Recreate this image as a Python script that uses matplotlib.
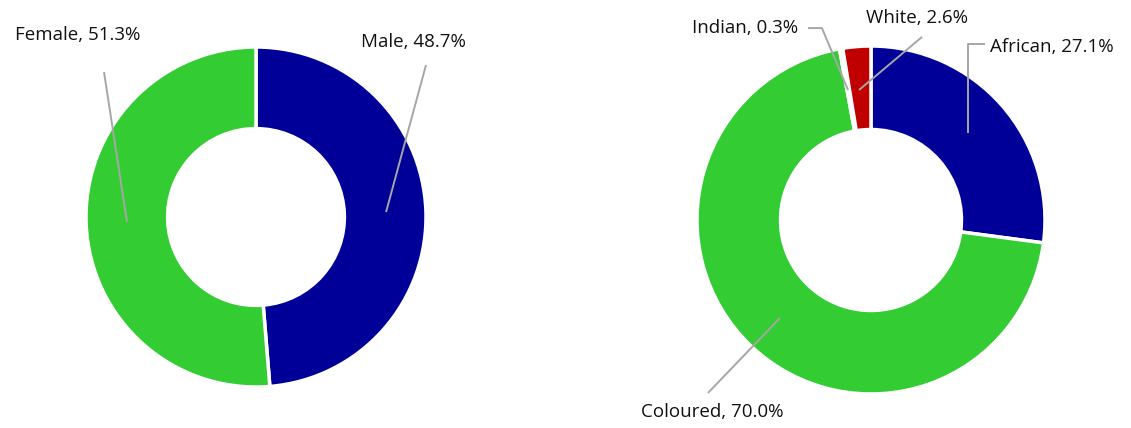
import matplotlib.pyplot as plt

# data
gender_labels = ['Male', 'Female']
gender_values = [48.7, 51.3]
race_labels = ['African', 'Coloured', 'Indian', 'White']
race_values = [27.1, 70.0, 0.3, 2.6]

navy = '#000099'
green = '#33CC33'
red = '#C00000'
orange = '#FF9900'
line_col = '#A6A6A6'

plt.rcParams['font.family'] = ['Open Sans', 'DejaVu Sans']

fig = plt.figure(figsize=(11.31, 4.28), dpi=100)
W, H = 1131, 428

# left donut: centre (256,217), radius 170 px
ax1 = fig.add_axes([86 / W, (428 - 387) / H, 340 / W, 340 / H])
# right donut: centre (871,220), radius 174 px
ax2 = fig.add_axes([697 / W, (428 - 394) / H, 348 / W, 348 / H])

wp = dict(width=0.48, edgecolor='white', linewidth=2.5)
ax1.pie(gender_values, colors=[navy, green], startangle=90, counterclock=False,
        radius=1, wedgeprops=wp)
ax2.pie(race_values, colors=[navy, green, orange, red], startangle=90, counterclock=False,
        radius=1, wedgeprops=wp)

for ax in (ax1, ax2):
    ax.set_xlim(-1, 1)
    ax.set_ylim(-1, 1)
    ax.set_aspect('equal')
    ax.axis('off')

fs = 13.5

def label(ax, txt, pos, pts, ha='center'):
    xs = [p[0] for p in pts]
    ys = [p[1] for p in pts]
    ax.plot(xs, ys, color=line_col, lw=1.4, clip_on=False, solid_capstyle='butt')
    ax.text(pos[0], pos[1], txt, ha=ha, va='center', fontsize=fs, color='#111111', clip_on=False)

label(ax1, f'{gender_labels[1]}, {gender_values[1]}%', (-1.047, 1.071),
      [(-0.894, 0.853), (-0.759, -0.029)])
label(ax1, f'{gender_labels[0]}, {gender_values[0]}%', (0.924, 1.029),
      [(1.0, 0.894), (0.765, 0.029)])

label(ax2, f'{race_labels[0]}, {race_values[0]}%', (0.684, 0.994),
      [(0.655, 1.011), (0.557, 1.011), (0.557, 0.5)], ha='left')
label(ax2, f'{race_labels[1]}, {race_values[1]:.1f}%', (-0.914, -1.103),
      [(-0.937, -0.994), (-0.523, -0.563)])
label(ax2, f'{race_labels[2]}, {race_values[2]}%', (-0.42, 1.103),
      [(-0.362, 1.103), (-0.282, 1.103), (-0.132, 0.747)], ha='right')
label(ax2, f'{race_labels[3]}, {race_values[3]}%', (0.264, 1.161),
      [(0.293, 1.052), (-0.069, 0.747)])

fig.savefig('out.png', dpi=100)
